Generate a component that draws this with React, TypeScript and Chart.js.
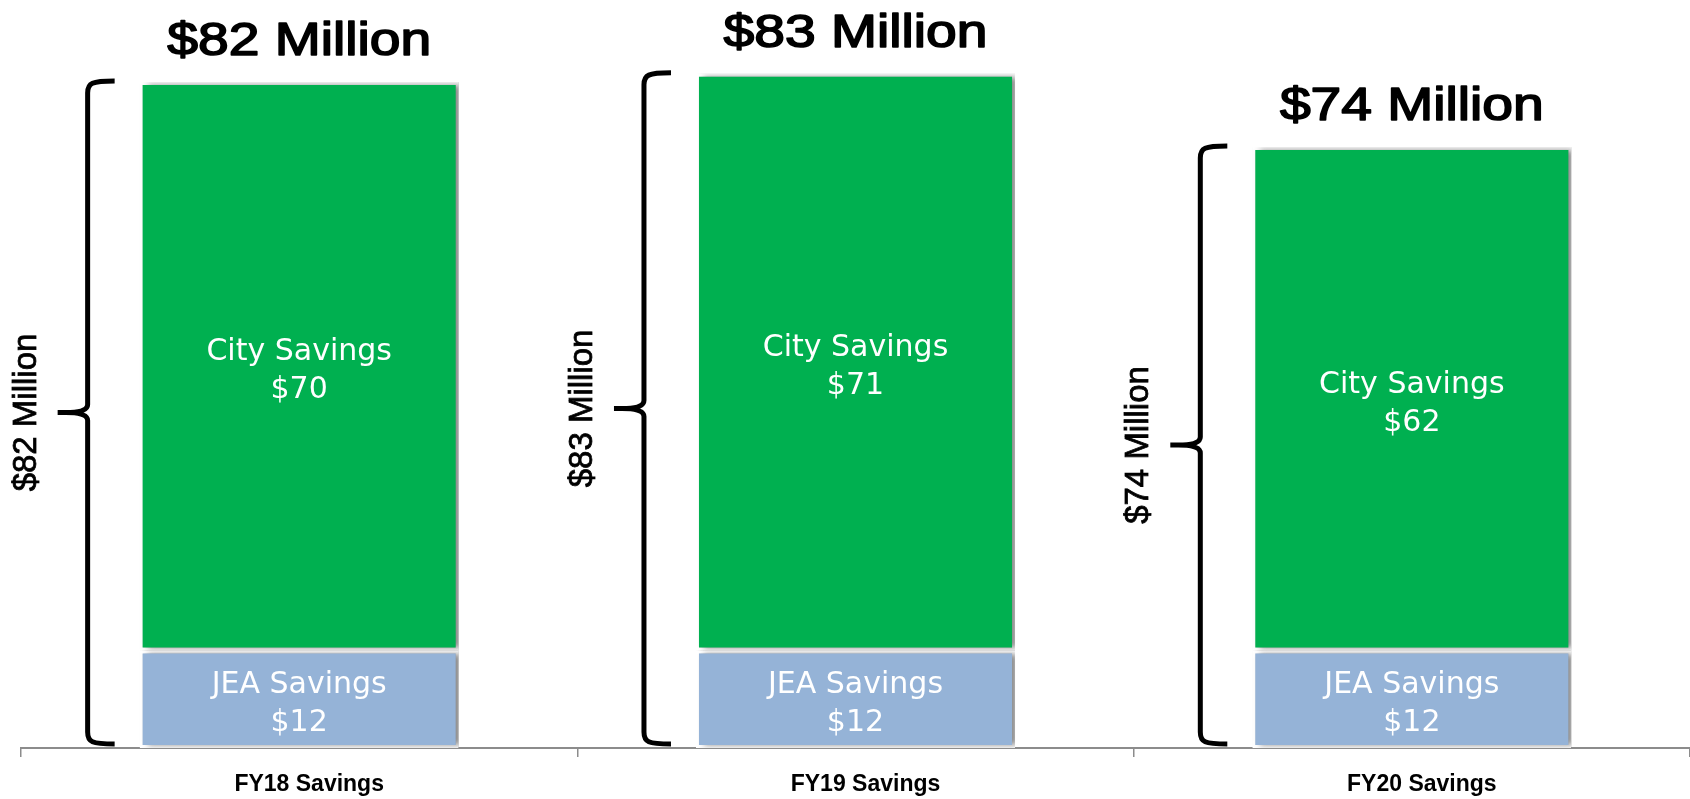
import React, { useEffect, useRef } from "react";
import { Chart, registerables } from "chart.js";

Chart.register(...registerables);

const categories = ["FY18 Savings", "FY19 Savings", "FY20 Savings"];
const jeaSavings = [12, 12, 12];
const citySavings = [70, 71, 62];
const seriesNames = ["JEA Savings", "City Savings"];
const seriesColors = ["#95B3D7", "#00B050"];

const shadowPlugin = {
  id: "barShadow",
  beforeDatasetsDraw(chart: any) {
    const ctx = chart.ctx;
    ctx.save();
    ctx.shadowColor = "rgba(0,0,0,0.45)";
    ctx.shadowBlur = 6;
    ctx.shadowOffsetX = 5;
    ctx.shadowOffsetY = 0;
  },
  afterDatasetsDraw(chart: any) {
    chart.ctx.restore();
  },
};

const annotPlugin = {
  id: "annot",
  afterDraw(chart: any) {
    const ctx = chart.ctx;
    const yScale = chart.scales.y;
    const zeroY = yScale.getPixelForValue(0);
    // inner labels
    chart.data.datasets.forEach((ds: any, di: number) => {
      const meta = chart.getDatasetMeta(di);
      meta.data.forEach((el: any, i: number) => {
        const p = el.getProps(["x", "y", "base"], true);
        const cy = (p.y + p.base) / 2;
        ctx.save();
        ctx.fillStyle = "#ffffff";
        ctx.font = "30px 'DejaVu Sans'";
        ctx.textAlign = "center";
        ctx.textBaseline = "middle";
        ctx.fillText(ds.label, p.x, cy - 14);
        ctx.fillText("$" + ds.data[i], p.x, cy + 24);
        ctx.restore();
      });
    });
    // titles and braces
    const topMeta = chart.getDatasetMeta(chart.data.datasets.length - 1);
    topMeta.data.forEach((el: any, i: number) => {
      const p = el.getProps(["x", "y", "width"], true);
      const total = jeaSavings[i] + citySavings[i];
      const text = "$" + total + " Million";
      // title
      ctx.save();
      ctx.fillStyle = "#000000";
      ctx.strokeStyle = "#000000";
      ctx.lineWidth = 1.6;
      ctx.lineJoin = "round";
      ctx.font = "46px 'Liberation Sans'";
      ctx.textAlign = "center";
      ctx.textBaseline = "alphabetic";
      ctx.translate(p.x, p.y - 27);
      ctx.scale(1.2, 1);
      ctx.fillText(text, 0, 0);
      ctx.strokeText(text, 0, 0);
      ctx.restore();
      // brace
      const left = p.x - p.width / 2;
      const vx = left - 52;
      const hx = left - 25;
      const top = p.y - 1;
      const bot = zeroY - 4;
      const mid = (top + bot) / 2;
      const tipX = vx - 30;
      ctx.save();
      ctx.strokeStyle = "#000000";
      ctx.lineWidth = 5;
      ctx.lineCap = "butt";
      ctx.lineJoin = "round";
      ctx.beginPath();
      ctx.moveTo(hx, top);
      ctx.bezierCurveTo(vx + 4, top, vx, top + 2, vx, top + 12);
      ctx.lineTo(vx, mid - 8);
      ctx.quadraticCurveTo(vx, mid, tipX + 8, mid);
      ctx.lineTo(tipX, mid);
      ctx.moveTo(tipX + 8, mid);
      ctx.quadraticCurveTo(vx, mid, vx, mid + 8);
      ctx.lineTo(vx, bot - 12);
      ctx.bezierCurveTo(vx, bot - 2, vx + 4, bot, hx, bot);
      ctx.stroke();
      ctx.restore();
      // rotated label
      ctx.save();
      ctx.fillStyle = "#000000";
      ctx.strokeStyle = "#000000";
      ctx.lineWidth = 0.8;
      ctx.font = "33px 'Liberation Sans'";
      ctx.textAlign = "center";
      ctx.textBaseline = "middle";
      ctx.translate(vx - 61, mid);
      ctx.rotate(-Math.PI / 2);
      ctx.fillText(text, 0, 0);
      ctx.strokeText(text, 0, 0);
      ctx.restore();
    });
  },
};

export default function App() {
  const ref = useRef<HTMLCanvasElement | null>(null);
  useEffect(() => {
    if (!ref.current) return;
    const chart = new Chart(ref.current, {
      type: "bar",
      data: {
        labels: categories,
        datasets: [
          {
            label: seriesNames[0],
            data: jeaSavings,
            backgroundColor: seriesColors[0],
            borderColor: "#ffffff",
            borderWidth: 3,
            borderSkipped: false,
            categoryPercentage: 1,
            barPercentage: 0.5735,
          },
          {
            label: seriesNames[1],
            data: citySavings,
            backgroundColor: seriesColors[1],
            borderColor: "#ffffff",
            borderWidth: 3,
            borderSkipped: false,
            categoryPercentage: 1,
            barPercentage: 0.5735,
          },
        ],
      },
      options: {
        animation: false,
        responsive: false,
        devicePixelRatio: 1,
        layout: { padding: { left: 21, top: 17, right: 0, bottom: 0 } },
        plugins: {
          legend: { display: false },
          tooltip: { enabled: false },
          title: { display: false },
        },
        scales: {
          x: {
            stacked: true,
            afterFit: (s: any) => {
              s.height = 51;
            },
            grid: {
              display: true,
              drawOnChartArea: false,
              drawTicks: true,
              tickLength: 9,
              color: "#8c8c8c",
              lineWidth: 1.5,
              offset: true,
            },
            border: { display: true, color: "#8c8c8c", width: 2 },
            ticks: {
              color: "#000000",
              padding: 14,
              labelOffset: 10,
              font: { family: "'Liberation Sans'", size: 23, weight: "bold" },
            },
          } as any,
          y: {
            stacked: true,
            display: false,
            min: 0,
            max: 90,
          },
        },
      } as any,
      plugins: [shadowPlugin, annotPlugin],
    });
    return () => chart.destroy();
  }, []);
  return (
    <div style={{ position: "absolute", left: 0, top: 0, width: 1690, height: 799, background: "#ffffff" }}>
      <canvas ref={ref} width={1690} height={799} />
    </div>
  );
}
